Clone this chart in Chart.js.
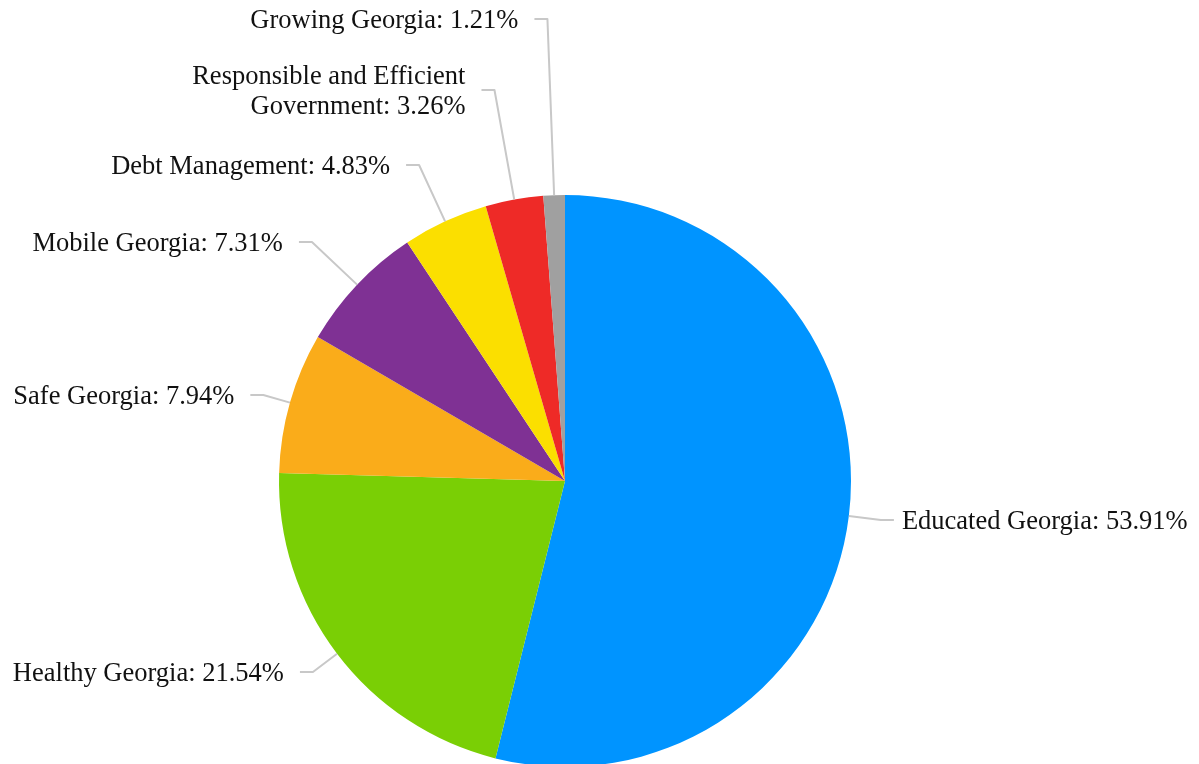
<!DOCTYPE html>
<html>
<head>
<meta charset="utf-8">
<title>Budget by Policy Area</title>
<script src="https://cdn.jsdelivr.net/npm/chart.js@4/dist/chart.umd.min.js"></script>
<style>
  html, body { margin: 0; padding: 0; background: #fff; overflow: hidden; }
  #wrap { width: 1199px; height: 764px; overflow: hidden; }
  canvas { display: block; }
</style>
</head>
<body>
<div id="wrap"><canvas id="pie" width="1199" height="800"></canvas></div>
<script>
// ------------------------------------------------------------
// Data
// ------------------------------------------------------------
const categories = [
  'Educated Georgia',
  'Healthy Georgia',
  'Safe Georgia',
  'Mobile Georgia',
  'Debt Management',
  'Responsible and Efficient Government',
  'Growing Georgia',
];
const shares = [53.91, 21.54, 7.94, 7.31, 4.83, 3.26, 1.21];
const sliceColors = ['#0094ff', '#7acf05', '#faac1a', '#7f3194', '#fbdf00', '#ee2a27', '#a0a0a0'];

// vertical row (px) each callout label sits on, same order as categories
const labelRows = [520, 672, 395, 242, 165, 90, 19];

const LABEL_FONT = '26.5px "Liberation Serif", "Times New Roman", serif';

// wrap a string greedily to maxWidth
function wrapText(ctx, text, maxWidth) {
  const words = text.split(' ');
  const lines = [];
  let line = '';
  words.forEach(w => {
    const test = line ? line + ' ' + w : w;
    if (line && ctx.measureText(test).width > maxWidth) {
      lines.push(line);
      line = w;
    } else {
      line = test;
    }
  });
  if (line) lines.push(line);
  return lines;
}

// Callout labels with leader lines: radial segment out to the label row, then a short horizontal tail
const calloutLabels = {
  id: 'calloutLabels',
  afterDatasetsDraw(chart, args, opts) {
    const { ctx } = chart;
    const meta = chart.getDatasetMeta(0);
    const data = chart.data.datasets[0].data;
    ctx.save();
    ctx.font = opts.font;
    meta.data.forEach((arc, i) => {
      const { x, y, outerRadius, startAngle, endAngle } = arc.getProps(['x', 'y', 'outerRadius', 'startAngle', 'endAngle'], true);
      const mid = (startAngle + endAngle) / 2;
      const dx = Math.cos(mid), dy = Math.sin(mid);
      const ex = x + outerRadius * dx, ey = y + outerRadius * dy;
      const rowY = opts.rows[i];
      let t = Math.abs(dy) > 0.01 ? (rowY - ey) / dy : opts.minLead;
      if (t < opts.minLead) t = opts.minLead;
      const bx = ex + t * dx;
      const by = rowY;
      const right = dx >= 0;
      const tx = bx + (right ? opts.tail : -opts.tail);

      ctx.strokeStyle = opts.lineColor;
      ctx.lineWidth = opts.lineWidth;
      ctx.lineJoin = 'round';
      ctx.beginPath();
      ctx.moveTo(ex, ey);
      ctx.lineTo(bx, by);
      ctx.lineTo(tx, by);
      ctx.stroke();

      const text = chart.data.labels[i] + ': ' + data[i].toFixed(2) + '%';
      const lines = wrapText(ctx, text, opts.maxWidth);
      ctx.fillStyle = opts.color;
      ctx.textAlign = right ? 'left' : 'right';
      ctx.textBaseline = 'middle';
      const lx = right ? tx + opts.gapRight : tx - opts.gapLeft;
      const top = by + opts.textShift - (lines.length - 1) * opts.lineHeight / 2;
      lines.forEach((ln, k) => ctx.fillText(ln, lx, top + k * opts.lineHeight));
    });
    ctx.restore();
  }
};

new Chart(document.getElementById('pie'), {
  type: 'pie',
  data: {
    labels: categories,
    datasets: [{
      data: shares,
      backgroundColor: sliceColors,
      borderWidth: 0,
    }]
  },
  options: {
    responsive: false,
    animation: false,
    layout: { padding: { left: 279, right: 348, top: 195, bottom: 33 } },
    plugins: {
      legend: { display: false },
      tooltip: { enabled: false },
      calloutLabels: {
        rows: labelRows,
        font: LABEL_FONT,
        color: '#111111',
        lineColor: '#c8c8c8',
        lineWidth: 2,
        minLead: 20,
        tail: 13,
        gapLeft: 16,
        gapRight: 8,
        maxWidth: 310,
        lineHeight: 30,
        textShift: 2,
      }
    }
  },
  plugins: [calloutLabels]
});
</script>
</body>
</html>
